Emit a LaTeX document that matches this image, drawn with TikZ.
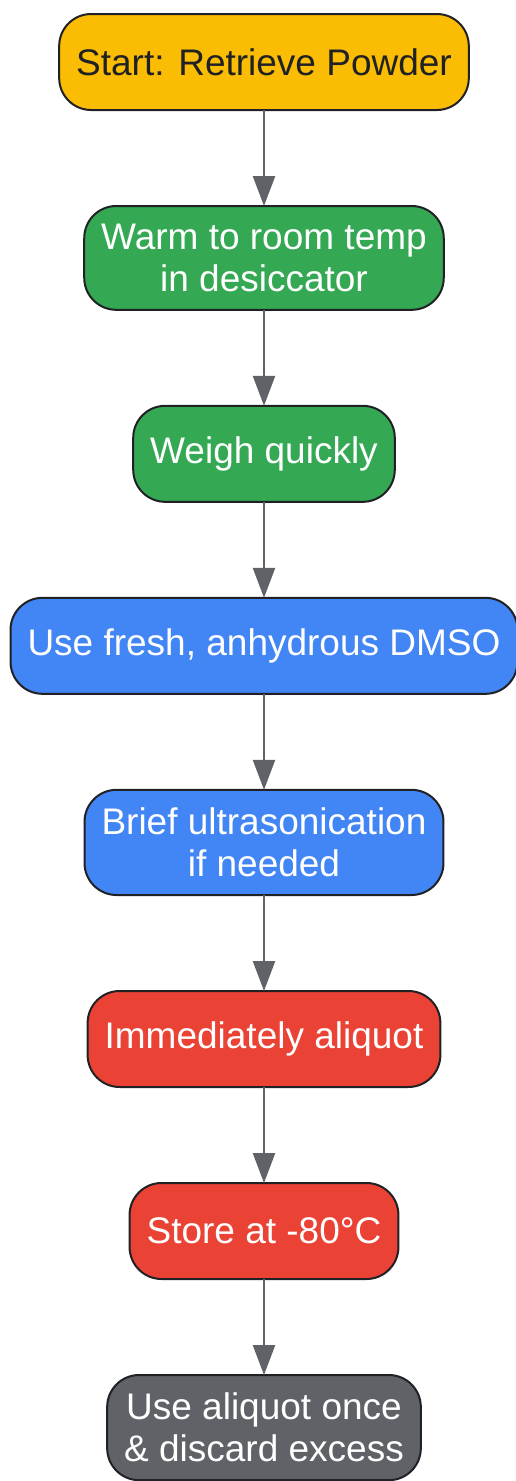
\documentclass[tikz,border=0pt]{standalone}
\usepackage{fontspec}
\setmainfont{Liberation Sans}
\usetikzlibrary{arrows.meta,positioning}
\definecolor{gyellow}{HTML}{FBBC04}
\definecolor{ggreen}{HTML}{34A853}
\definecolor{gblue}{HTML}{4285F4}
\definecolor{gred}{HTML}{EA4335}
\definecolor{ggrey}{HTML}{5F6368}
\definecolor{gdark}{HTML}{202124}
\tikzset{stepbox/.style={rounded corners=32pt, draw=gdark, line width=2pt, inner xsep=17pt, inner ysep=18pt, outer sep=0pt, minimum height=96pt, align=center, text=white, font=\fontsize{37}{42}\selectfont}}
\tikzset{arr/.style={draw=ggrey, line width=2.5pt, -{Triangle[length=30pt, width=22pt]}}}

\begin{document}
\begin{tikzpicture}[node distance=96pt]
        \useasboundingbox (0pt,0pt) rectangle (516pt,-1481pt);
        \node[stepbox, fill=gyellow, text=gdark] (A) at (264pt,-62pt) {Start: Retrieve Powder};
        \node[stepbox, fill=ggreen, below=of A] (B) {Warm to room temp\\in desiccator};
        \node[stepbox, fill=ggreen, below=of B] (C) {Weigh quickly};
        \node[stepbox, fill=gblue, below=of C] (D) {Use fresh, anhydrous DMSO};
        \node[stepbox, fill=gblue, below=of D] (E) {Brief ultrasonication\\if needed};
        \node[stepbox, fill=gred, below=of E] (F) {Immediately aliquot};
        \node[stepbox, fill=gred, below=of F] (G) {Store at -80°C};
        \node[stepbox, fill=ggrey, below=of G] (H) {Use aliquot once\\\& discard excess};

        \foreach \a/\b in {A/B, B/C, C/D, D/E, E/F, F/G, G/H}
            \draw[arr] (\a) -- (\b);
    \end{tikzpicture}
\end{document}
